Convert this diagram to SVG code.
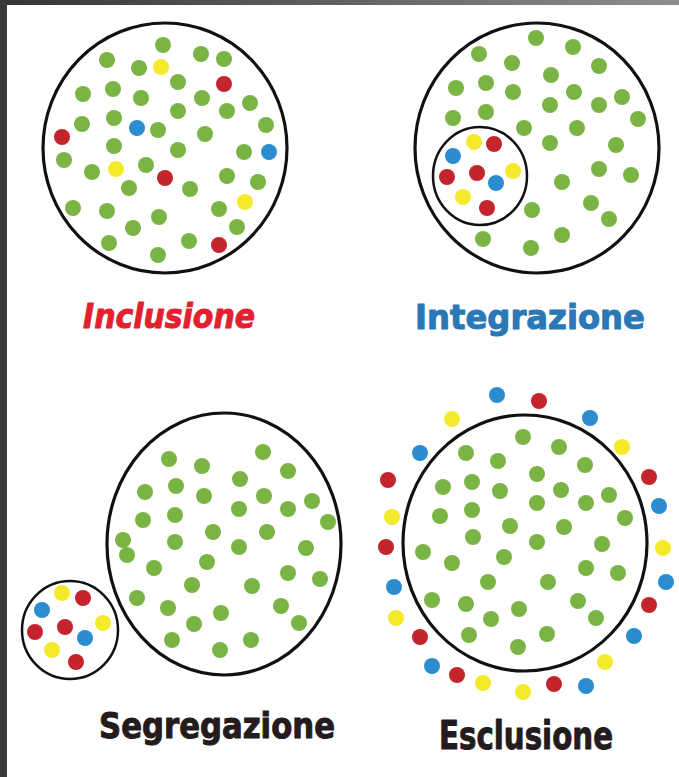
<svg xmlns="http://www.w3.org/2000/svg" width="679" height="777" viewBox="0 0 679 777">
<defs>
<linearGradient id="topband" x1="0" y1="0" x2="1" y2="0">
<stop offset="0" stop-color="#353535"/>
<stop offset="1" stop-color="#8e8e8e"/>
</linearGradient>
<style>
.ring{fill:none;stroke:#111;stroke-width:3.2}
.ring2{fill:none;stroke:#111;stroke-width:2.5}
.g{fill:#7ab445}
.r{fill:#c4242b}
.y{fill:#f4ea2b}
.b{fill:#2b8dd0}
.lbl{font-family:"DejaVu Sans","Liberation Sans",sans-serif;font-weight:bold;stroke-width:1;stroke-linejoin:round}
</style>
</defs>
<rect x="0" y="0" width="679" height="777" fill="#ffffff"/>
<rect x="0" y="0" width="679" height="5" fill="url(#topband)"/>
<rect x="0" y="0" width="7" height="777" fill="#3a3a3a"/>

<g id="inclusione">
<ellipse class="ring" cx="165" cy="148" rx="122" ry="125"/>
<g>
<circle class="g" cx="163" cy="45" r="8"/>
<circle class="g" cx="107" cy="60" r="8"/>
<circle class="g" cx="139" cy="68" r="8"/>
<circle class="y" cx="161" cy="67" r="8"/>
<circle class="g" cx="201" cy="54" r="8"/>
<circle class="g" cx="224" cy="59" r="8"/>
<circle class="r" cx="224" cy="84" r="8"/>
<circle class="g" cx="83" cy="94" r="8"/>
<circle class="g" cx="113" cy="89" r="8"/>
<circle class="g" cx="141" cy="98" r="8"/>
<circle class="g" cx="178" cy="82" r="8"/>
<circle class="g" cx="202" cy="98" r="8"/>
<circle class="g" cx="227" cy="111" r="8"/>
<circle class="g" cx="250" cy="103" r="8"/>
<circle class="g" cx="82" cy="124" r="8"/>
<circle class="g" cx="114" cy="118" r="8"/>
<circle class="b" cx="137" cy="128" r="8"/>
<circle class="g" cx="158" cy="130" r="8"/>
<circle class="g" cx="178" cy="111" r="8"/>
<circle class="g" cx="205" cy="134" r="8"/>
<circle class="g" cx="266" cy="125" r="8"/>
<circle class="r" cx="62" cy="137" r="8"/>
<circle class="g" cx="114" cy="146" r="8"/>
<circle class="g" cx="178" cy="150" r="8"/>
<circle class="g" cx="244" cy="152" r="8"/>
<circle class="b" cx="269" cy="152" r="8"/>
<circle class="g" cx="64" cy="160" r="8"/>
<circle class="g" cx="92" cy="172" r="8"/>
<circle class="y" cx="116" cy="169" r="8"/>
<circle class="g" cx="146" cy="165" r="8"/>
<circle class="r" cx="165" cy="178" r="8"/>
<circle class="g" cx="129" cy="188" r="8"/>
<circle class="g" cx="190" cy="189" r="8"/>
<circle class="g" cx="227" cy="176" r="8"/>
<circle class="g" cx="258" cy="182" r="8"/>
<circle class="y" cx="245" cy="202" r="8"/>
<circle class="g" cx="73" cy="208" r="8"/>
<circle class="g" cx="107" cy="211" r="8"/>
<circle class="g" cx="159" cy="217" r="8"/>
<circle class="g" cx="219" cy="209" r="8"/>
<circle class="g" cx="237" cy="227" r="8"/>
<circle class="g" cx="133" cy="228" r="8"/>
<circle class="g" cx="109" cy="243" r="8"/>
<circle class="g" cx="189" cy="241" r="8"/>
<circle class="r" cx="219" cy="245" r="8"/>
<circle class="g" cx="158" cy="255" r="8"/>
</g>
<text class="lbl" x="83" y="328" font-size="34" font-style="italic" fill="#e3212e" stroke="#e3212e" textLength="172" lengthAdjust="spacingAndGlyphs">Inclusione</text>
</g>

<g id="integrazione">
<ellipse class="ring" cx="537" cy="148" rx="122" ry="125"/>
<ellipse class="ring2" cx="480" cy="176" rx="47" ry="49"/>
<g>
<circle class="g" cx="536" cy="38" r="8"/>
<circle class="g" cx="573" cy="47" r="8"/>
<circle class="g" cx="479" cy="54" r="8"/>
<circle class="g" cx="512" cy="63" r="8"/>
<circle class="g" cx="599" cy="66" r="8"/>
<circle class="g" cx="551" cy="75" r="8"/>
<circle class="g" cx="456" cy="88" r="8"/>
<circle class="g" cx="486" cy="83" r="8"/>
<circle class="g" cx="513" cy="92" r="8"/>
<circle class="g" cx="574" cy="92" r="8"/>
<circle class="g" cx="599" cy="105" r="8"/>
<circle class="g" cx="622" cy="97" r="8"/>
<circle class="g" cx="453" cy="118" r="8"/>
<circle class="g" cx="486" cy="112" r="8"/>
<circle class="g" cx="550" cy="105" r="8"/>
<circle class="g" cx="524" cy="128" r="8"/>
<circle class="g" cx="577" cy="128" r="8"/>
<circle class="g" cx="638" cy="119" r="8"/>
<circle class="g" cx="550" cy="143" r="8"/>
<circle class="g" cx="616" cy="145" r="8"/>
<circle class="g" cx="599" cy="169" r="8"/>
<circle class="g" cx="631" cy="175" r="8"/>
<circle class="g" cx="562" cy="182" r="8"/>
<circle class="g" cx="591" cy="203" r="8"/>
<circle class="g" cx="532" cy="210" r="8"/>
<circle class="g" cx="609" cy="219" r="8"/>
<circle class="g" cx="562" cy="235" r="8"/>
<circle class="g" cx="483" cy="239" r="8"/>
<circle class="g" cx="531" cy="248" r="8"/>
<circle class="y" cx="474" cy="142" r="8"/>
<circle class="r" cx="494" cy="144" r="8"/>
<circle class="b" cx="453" cy="156" r="8"/>
<circle class="r" cx="477" cy="173" r="8"/>
<circle class="y" cx="513" cy="171" r="8"/>
<circle class="r" cx="447" cy="177" r="8"/>
<circle class="b" cx="496" cy="183" r="8"/>
<circle class="y" cx="463" cy="197" r="8"/>
<circle class="r" cx="487" cy="208" r="8"/>
</g>
<text class="lbl" x="415" y="329" font-size="33" fill="#2a78b5" stroke="#2a78b5" textLength="230" lengthAdjust="spacingAndGlyphs">Integrazione</text>
</g>

<g id="segregazione">
<ellipse class="ring" cx="224" cy="544" rx="117" ry="131"/>
<ellipse class="ring2" cx="70" cy="630" rx="48" ry="49"/>
<g>
<circle class="g" cx="263" cy="452" r="8"/>
<circle class="g" cx="169" cy="459" r="8"/>
<circle class="g" cx="202" cy="466" r="8"/>
<circle class="g" cx="288" cy="471" r="8"/>
<circle class="g" cx="240" cy="479" r="8"/>
<circle class="g" cx="176" cy="486" r="8"/>
<circle class="g" cx="145" cy="492" r="8"/>
<circle class="g" cx="204" cy="496" r="8"/>
<circle class="g" cx="264" cy="496" r="8"/>
<circle class="g" cx="312" cy="501" r="8"/>
<circle class="g" cx="239" cy="509" r="8"/>
<circle class="g" cx="288" cy="509" r="8"/>
<circle class="g" cx="175" cy="515" r="8"/>
<circle class="g" cx="143" cy="520" r="8"/>
<circle class="g" cx="328" cy="522" r="8"/>
<circle class="g" cx="213" cy="532" r="8"/>
<circle class="g" cx="267" cy="532" r="8"/>
<circle class="g" cx="123" cy="540" r="8"/>
<circle class="g" cx="175" cy="542" r="8"/>
<circle class="g" cx="239" cy="547" r="8"/>
<circle class="g" cx="127" cy="555" r="8"/>
<circle class="g" cx="306" cy="548" r="8"/>
<circle class="g" cx="207" cy="562" r="8"/>
<circle class="g" cx="154" cy="568" r="8"/>
<circle class="g" cx="288" cy="573" r="8"/>
<circle class="g" cx="320" cy="579" r="8"/>
<circle class="g" cx="192" cy="585" r="8"/>
<circle class="g" cx="252" cy="586" r="8"/>
<circle class="g" cx="137" cy="598" r="8"/>
<circle class="g" cx="281" cy="606" r="8"/>
<circle class="g" cx="168" cy="608" r="8"/>
<circle class="g" cx="221" cy="613" r="8"/>
<circle class="g" cx="194" cy="624" r="8"/>
<circle class="g" cx="299" cy="623" r="8"/>
<circle class="g" cx="172" cy="640" r="8"/>
<circle class="g" cx="251" cy="640" r="8"/>
<circle class="g" cx="220" cy="650" r="8"/>
<circle class="y" cx="62" cy="593" r="8"/>
<circle class="r" cx="83" cy="598" r="8"/>
<circle class="b" cx="42" cy="610" r="8"/>
<circle class="y" cx="103" cy="623" r="8"/>
<circle class="r" cx="35" cy="632" r="8"/>
<circle class="r" cx="65" cy="627" r="8"/>
<circle class="b" cx="85" cy="638" r="8"/>
<circle class="y" cx="52" cy="650" r="8"/>
<circle class="r" cx="76" cy="662" r="8"/>
</g>
<text class="lbl" x="99" y="738" font-size="35" fill="#231b1c" stroke="#231b1c" textLength="236" lengthAdjust="spacingAndGlyphs">Segregazione</text>
</g>

<g id="esclusione">
<ellipse class="ring" cx="525" cy="543" rx="122" ry="128"/>
<g>
<circle class="g" cx="523" cy="437" r="8"/>
<circle class="g" cx="559" cy="447" r="8"/>
<circle class="g" cx="466" cy="453" r="8"/>
<circle class="g" cx="498" cy="461" r="8"/>
<circle class="g" cx="585" cy="465" r="8"/>
<circle class="g" cx="537" cy="474" r="8"/>
<circle class="g" cx="443" cy="487" r="8"/>
<circle class="g" cx="472" cy="482" r="8"/>
<circle class="g" cx="500" cy="491" r="8"/>
<circle class="g" cx="561" cy="490" r="8"/>
<circle class="g" cx="609" cy="495" r="8"/>
<circle class="g" cx="537" cy="503" r="8"/>
<circle class="g" cx="586" cy="503" r="8"/>
<circle class="g" cx="440" cy="516" r="8"/>
<circle class="g" cx="472" cy="510" r="8"/>
<circle class="g" cx="625" cy="518" r="8"/>
<circle class="g" cx="510" cy="526" r="8"/>
<circle class="g" cx="564" cy="527" r="8"/>
<circle class="g" cx="473" cy="537" r="8"/>
<circle class="g" cx="537" cy="542" r="8"/>
<circle class="g" cx="602" cy="544" r="8"/>
<circle class="g" cx="423" cy="552" r="8"/>
<circle class="g" cx="452" cy="563" r="8"/>
<circle class="g" cx="504" cy="557" r="8"/>
<circle class="g" cx="586" cy="568" r="8"/>
<circle class="g" cx="618" cy="573" r="8"/>
<circle class="g" cx="488" cy="582" r="8"/>
<circle class="g" cx="548" cy="582" r="8"/>
<circle class="g" cx="432" cy="600" r="8"/>
<circle class="g" cx="466" cy="604" r="8"/>
<circle class="g" cx="519" cy="609" r="8"/>
<circle class="g" cx="578" cy="601" r="8"/>
<circle class="g" cx="491" cy="619" r="8"/>
<circle class="g" cx="596" cy="618" r="8"/>
<circle class="g" cx="469" cy="635" r="8"/>
<circle class="g" cx="547" cy="634" r="8"/>
<circle class="g" cx="518" cy="647" r="8"/>
<circle class="b" cx="497" cy="395" r="8"/>
<circle class="r" cx="539" cy="401" r="8"/>
<circle class="y" cx="452" cy="419" r="8"/>
<circle class="b" cx="590" cy="418" r="8"/>
<circle class="b" cx="420" cy="453" r="8"/>
<circle class="y" cx="622" cy="447" r="8"/>
<circle class="r" cx="388" cy="480" r="8"/>
<circle class="r" cx="649" cy="477" r="8"/>
<circle class="y" cx="392" cy="517" r="8"/>
<circle class="b" cx="659" cy="506" r="8"/>
<circle class="r" cx="386" cy="547" r="8"/>
<circle class="y" cx="663" cy="548" r="8"/>
<circle class="b" cx="394" cy="587" r="8"/>
<circle class="b" cx="666" cy="582" r="8"/>
<circle class="y" cx="396" cy="618" r="8"/>
<circle class="r" cx="649" cy="605" r="8"/>
<circle class="r" cx="420" cy="637" r="8"/>
<circle class="b" cx="634" cy="636" r="8"/>
<circle class="b" cx="432" cy="666" r="8"/>
<circle class="y" cx="605" cy="662" r="8"/>
<circle class="r" cx="457" cy="675" r="8"/>
<circle class="y" cx="483" cy="683" r="8"/>
<circle class="y" cx="523" cy="692" r="8"/>
<circle class="r" cx="554" cy="684" r="8"/>
<circle class="b" cx="586" cy="686" r="8"/>
</g>
<text class="lbl" x="439" y="749" font-size="39" fill="#231b1c" stroke="#231b1c" textLength="174" lengthAdjust="spacingAndGlyphs">Esclusione</text>
</g>
</svg>
